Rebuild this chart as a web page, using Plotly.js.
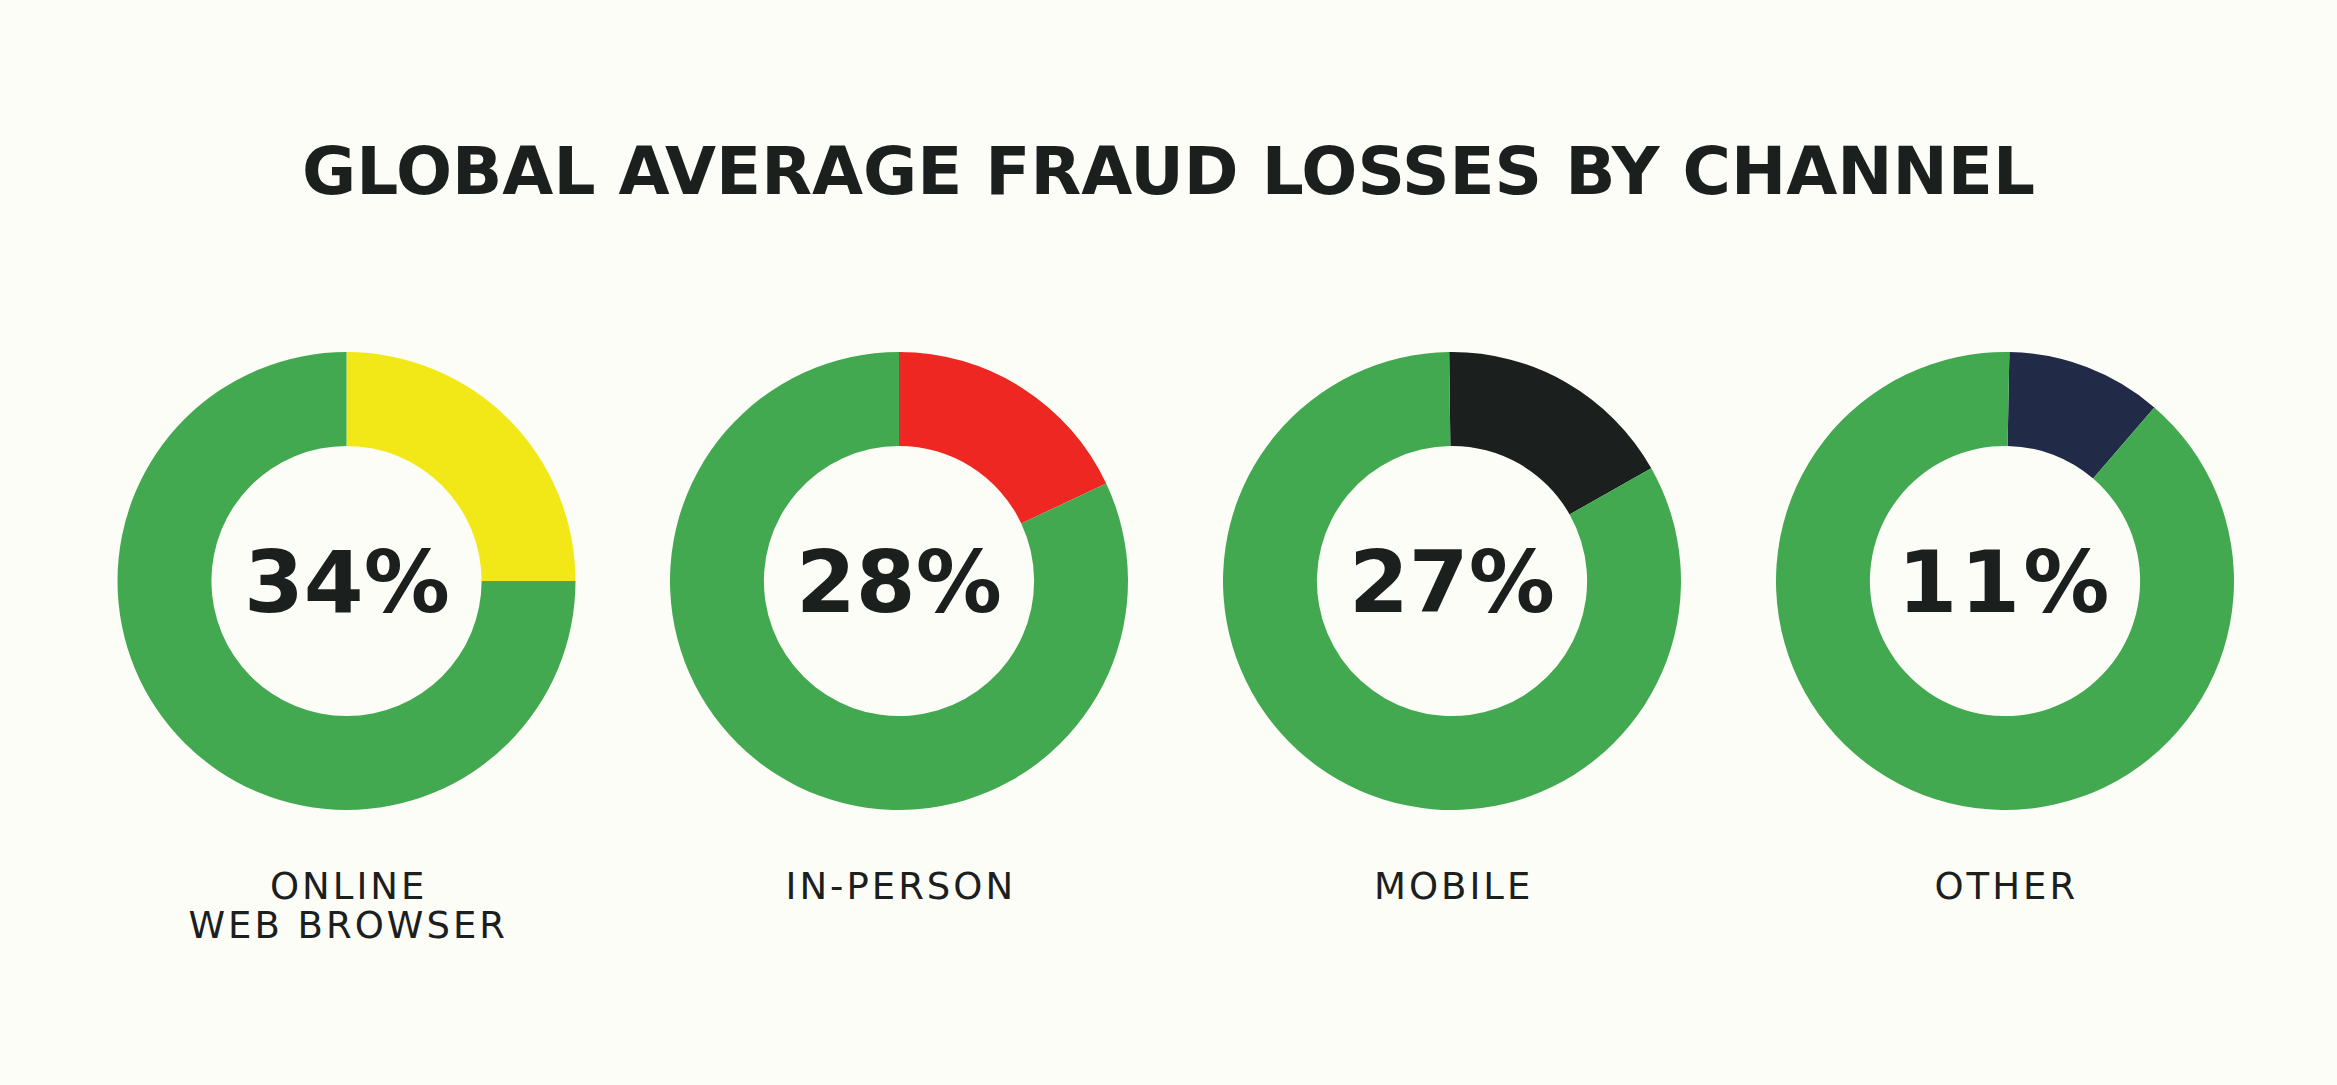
<!DOCTYPE html>
<html>
<head>
<meta charset="utf-8">
<script src="https://cdn.plot.ly/plotly-3.0.1.min.js"></script>
<style>
  html, body { margin: 0; padding: 0; background: #fdfdf8; }
  #chart { width: 2337px; height: 1085px; }
  /* channel names are set wider in the original, give them some tracking */
  .annotation:nth-of-type(n+5) text { letter-spacing: 3px; }
</style>
</head>
<body>
<div id="chart"></div>
<script>
// channel data
var channelLines = [["ONLINE", "WEB BROWSER"], ["IN-PERSON"], ["MOBILE"], ["OTHER"]];
var shareLabels = ["34%", "28%", "27%", "11%"];
// size of the coloured slice as drawn in the picture (percent of the ring)
var sliceShare = [25, 18, 17, 11];
var sliceColors = ["#f2e818", "#ee2722", "#1b201f", "#212a47"];
var startAngle = [0, 0, -0.7, 1.1];

var W = 2337, H = 1085;
var centersX = [346.5, 899, 1452, 2005];
var centerY = 581;
var radius = 229;
var green = "#43a950";
var ink = "#1b201f";

var data = [];
var pctNotes = [];
var nameNotes = [];

for (var i = 0; i < channelLines.length; i++) {
  var cx = centersX[i];
  data.push({
    type: "pie",
    values: [sliceShare[i], 100 - sliceShare[i]],
    labels: [channelLines[i].join(" "), "rest"],
    marker: { colors: [sliceColors[i], green], line: { width: 0 } },
    hole: 0.59,
    sort: false,
    direction: "clockwise",
    rotation: startAngle[i],
    textinfo: "none",
    hoverinfo: "skip",
    showlegend: false,
    domain: {
      x: [(cx - radius) / W, (cx + radius) / W],
      y: [(H - centerY - radius) / H, (H - centerY + radius) / H]
    }
  });

  // percentage in the middle
  pctNotes.push({
    text: shareLabels[i],
    x: cx / W, y: (H - centerY - 1) / H,
    xref: "paper", yref: "paper",
    xanchor: "center", yanchor: "middle",
    showarrow: false,
    font: { family: "DejaVu Sans", size: 86, color: ink, weight: 700 }
  });

  // channel name under the ring, one annotation per line
  for (var j = 0; j < channelLines[i].length; j++) {
    nameNotes.push({
      text: channelLines[i][j],
      x: (cx + 1.5) / W, y: (H - 886 - 39 * j) / H,
      xref: "paper", yref: "paper",
      xanchor: "center", yanchor: "middle",
      showarrow: false,
      font: { family: "DejaVu Sans", size: 37, color: ink }
    });
  }
}

var layout = {
  width: W,
  height: H,
  margin: { l: 0, r: 0, t: 0, b: 0 },
  paper_bgcolor: "#fdfdf8",
  plot_bgcolor: "#fdfdf8",
  title: {
    text: "<b>GLOBAL AVERAGE FRAUD LOSSES BY CHANNEL</b>",
    x: 0.5, xanchor: "center",
    y: (H - 171) / H, yanchor: "middle",
    font: { family: "DejaVu Sans", size: 66, color: ink }
  },
  annotations: pctNotes.concat(nameNotes)
};

Plotly.newPlot("chart", data, layout, { displayModeBar: false, staticPlot: true });
</script>
</body>
</html>
